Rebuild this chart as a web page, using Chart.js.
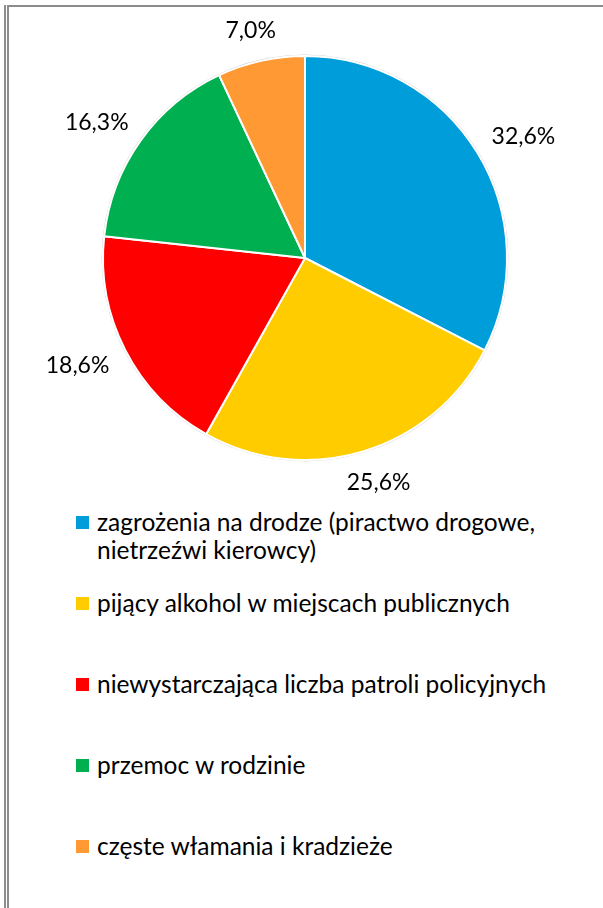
<!DOCTYPE html>
<html lang="pl">
<head>
<meta charset="utf-8">
<title>Zagrożenia</title>
<script src="https://cdn.jsdelivr.net/npm/chart.js@4.4.1/dist/chart.umd.min.js"></script>
<style>
  html, body { margin: 0; padding: 0; background: #fff; }
  body { width: 603px; height: 908px; position: relative; overflow: hidden; font-family: Lato, "Open Sans", sans-serif; }
  .rule { position: absolute; background: #8c8c8c; }
  .rule.v1 { left: 4px; top: 5px; width: 2px; bottom: 0; }
  .rule.v2 { left: 7px; top: 5px; width: 2px; bottom: 0; }
  .rule.h1 { left: 7px; top: 5px; right: 0; height: 2px; }
  #chart { position: absolute; left: 0; top: 0; display: block; }
  #legend { position: absolute; left: 76px; top: 508px; width: 500px; }
  .item { position: relative; height: 81px; }
  .key { position: absolute; left: 0; top: 8px; width: 13px; height: 13px; }
  .txt { position: absolute; left: 21px; top: 0; width: 475px; font-size: 24.5px; line-height: 28px; color: #000; }
</style>
</head>
<body>
<div class="rule v1"></div>
<div class="rule v2"></div>
<div class="rule h1"></div>
<canvas id="chart" width="603" height="500"></canvas>
<div id="legend"></div>
<script>
// kategorie i udziały (%), od godziny 12 zgodnie z ruchem wskazówek
const categories = [
  'zagrożenia na drodze (piractwo drogowe, nietrzeźwi kierowcy)',
  'pijący alkohol w miejscach publicznych',
  'niewystarczająca liczba patroli policyjnych',
  'przemoc w rodzinie',
  'częste włamania i kradzieże'
];
const shares = [32.6, 25.6, 18.6, 16.3, 7.0];
const sliceColors = ['#009DDB', '#FFCC00', '#FF0000', '#00B050', '#FF9933'];

const fmt = v => v.toFixed(1).replace('.', ',') + '%';

// cienka szara obwódka koła
const pieRim = {
  id: 'pieRim',
  beforeDatasetsDraw(chart) {
    const arc = chart.getDatasetMeta(0).data[0];
    if (!arc) return;
    const p = arc.getProps(['x', 'y', 'outerRadius'], true);
    const ctx = chart.ctx;
    ctx.save();
    ctx.beginPath();
    ctx.arc(p.x, p.y, p.outerRadius + 0.8, 0, Math.PI * 2);
    ctx.strokeStyle = 'rgba(0,0,0,0.18)';
    ctx.lineWidth = 1.2;
    ctx.stroke();
    ctx.restore();
  }
};

// etykiety procentowe na zewnątrz wycinków
const pctLabels = {
  id: 'pctLabels',
  afterDatasetsDraw(chart) {
    const ctx = chart.ctx;
    const meta = chart.getDatasetMeta(0);
    ctx.save();
    ctx.font = '23px Lato';
    ctx.fillStyle = '#000';
    ctx.textAlign = 'center';
    ctx.textBaseline = 'alphabetic';
    meta.data.forEach((arc, i) => {
      const p = arc.getProps(['x', 'y', 'startAngle', 'endAngle', 'outerRadius'], true);
      const mid = (p.startAngle + p.endAngle) / 2;
      const ux = Math.cos(mid), uy = Math.sin(mid);
      const text = fmt(shares[i]);
      const w = ctx.measureText(text).width;
      const h = 20;
      const r = p.outerRadius + 22;
      const cx = p.x + ux * r + ux * w / 2;
      const cy = p.y + uy * r + uy * h / 2;
      ctx.fillText(text, cx, cy + 8);
    });
    ctx.restore();
  }
};

const ctx = document.getElementById('chart').getContext('2d');
new Chart(ctx, {
  type: 'pie',
  data: {
    labels: categories,
    datasets: [{
      data: shares,
      backgroundColor: sliceColors,
      borderColor: '#fff',
      borderWidth: 2
    }]
  },
  options: {
    responsive: false,
    animation: false,
    layout: { padding: { left: 102, right: 95, top: 55, bottom: 39 } },
    plugins: {
      legend: { display: false },
      tooltip: { enabled: false }
    }
  },
  plugins: [pieRim, pctLabels]
});

// legenda pod wykresem
const legend = document.getElementById('legend');
categories.forEach((name, i) => {
  const item = document.createElement('div');
  item.className = 'item';
  const key = document.createElement('span');
  key.className = 'key';
  key.style.background = sliceColors[i];
  const txt = document.createElement('span');
  txt.className = 'txt';
  txt.textContent = name;
  item.appendChild(key);
  item.appendChild(txt);
  legend.appendChild(item);
});
</script>
</body>
</html>
